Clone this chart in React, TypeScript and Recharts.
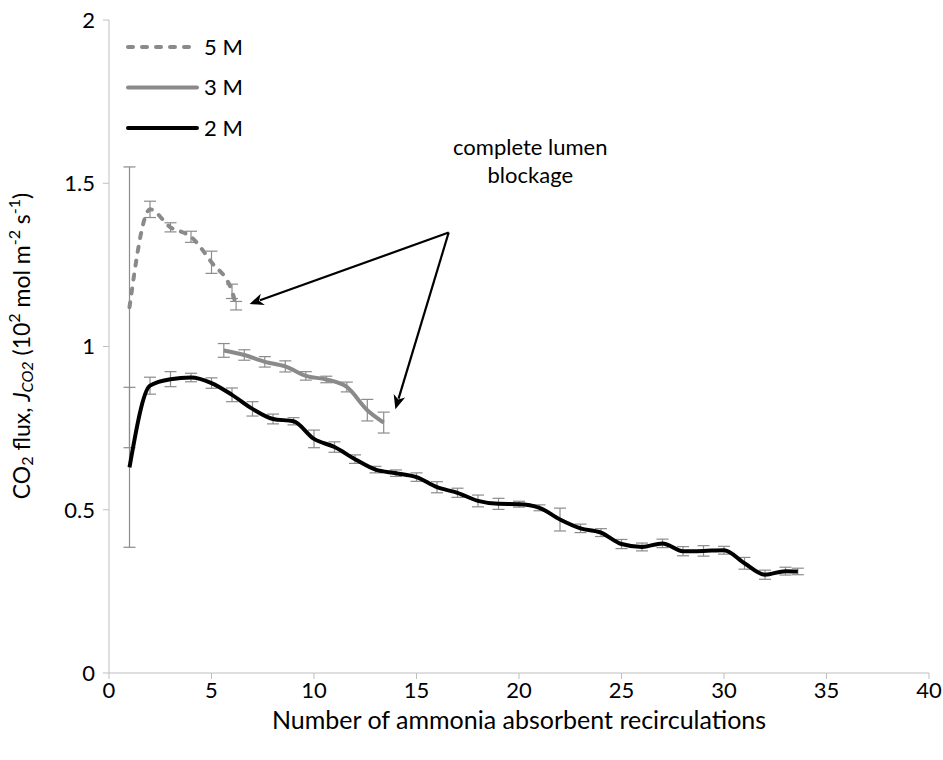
import React from 'react'
import {
  LineChart,
  Line,
  XAxis,
  YAxis,
  ErrorBar,
  Legend,
  ReferenceLine,
  ReferenceDot,
} from 'recharts'

// 2 M absorbent
const x2M = [1, 2, 3, 4, 5, 6, 7, 8, 9, 10, 11, 12, 13, 14, 15, 16, 17, 18, 19, 20, 21, 22, 23, 24, 25, 26, 27, 28, 29, 30, 31, 32, 33, 33.6]
const flux2M = [0.63, 0.88, 0.9, 0.905, 0.888, 0.852, 0.809, 0.778, 0.771, 0.717, 0.692, 0.655, 0.623, 0.612, 0.6, 0.569, 0.552, 0.527, 0.518, 0.517, 0.506, 0.47, 0.443, 0.43, 0.395, 0.386, 0.397, 0.373, 0.374, 0.376, 0.336, 0.301, 0.312, 0.311]
const err2M = [0.245, 0.026, 0.023, 0.013, 0.016, 0.021, 0.022, 0.015, 0.011, 0.027, 0.016, 0.013, 0.01, 0.01, 0.013, 0.017, 0.014, 0.018, 0.017, 0.009, 0.009, 0.035, 0.013, 0.012, 0.014, 0.012, 0.013, 0.014, 0.016, 0.012, 0.018, 0.014, 0.012, 0.01]

// 3 M absorbent
const x3M = [5.6, 6.6, 7.6, 8.6, 9.6, 10.6, 11.6, 12.6, 13.4]
const flux3M = [0.988, 0.974, 0.953, 0.939, 0.91, 0.899, 0.876, 0.805, 0.767]
const err3M = [0.021, 0.016, 0.016, 0.017, 0.013, 0.01, 0.015, 0.033, 0.032]

// 5 M absorbent
const x5M = [1, 2, 3, 4, 5, 6, 6.2]
const flux5M = [1.12, 1.42, 1.365, 1.336, 1.258, 1.169, 1.125]
const err5M = [0.43, 0.025, 0.014, 0.017, 0.034, 0.022, 0.013]

const xTicks = [0, 5, 10, 15, 20, 25, 30, 35, 40]
const yTicks = [0, 0.5, 1, 1.5, 2]

// annotation: apex of the two arrows and their tips
const arrowApex = { x: 16.57, y: 1.349 }
const arrowTips = [
  { x: 6.86, y: 1.13 },
  { x: 13.97, y: 0.808 },
]

const build = (xs: number[], ys: number[], es: number[]) =>
  xs.map((x, i) => ({ x, y: ys[i], err: es[i] }))

const data2M = build(x2M, flux2M, err2M)
const data3M = build(x3M, flux3M, err3M)
const data5M = build(x5M, flux5M, err5M)

const FONT = 'Lato, "Open Sans", sans-serif'
const AXIS = '#bfbfbf'
const ERR = '#8c8c8c'
const GREY = '#8a8a8a'

const legendItems = [
  { name: '5 M', color: GREY, dash: '5 9' },
  { name: '3 M', color: GREY, dash: undefined },
  { name: '2 M', color: '#000', dash: undefined },
]

function LegendBox() {
  return (
    <svg width={140} height={110}>
      {legendItems.map((it, i) => (
        <g key={it.name}>
          <line
            x1={4}
            x2={73}
            y1={17 + i * 40.5}
            y2={17 + i * 40.5}
            stroke={it.color}
            strokeWidth={4}
            strokeDasharray={it.dash}
            strokeLinecap="round"
          />
          <text x={80} y={17 + i * 40.5} dy="0.36em" fontSize={22} fontFamily={FONT} fill="#000">
            {it.name}
          </text>
        </g>
      ))}
    </svg>
  )
}

function Arrow(props: any) {
  const { x1, y1, x2, y2 } = props
  const a = Math.atan2(y2 - y1, x2 - x1)
  const len = 14
  const half = 6
  const bx = x2 - len * Math.cos(a)
  const by = y2 - len * Math.sin(a)
  const p1 = `${bx + half * Math.sin(a)},${by - half * Math.cos(a)}`
  const p2 = `${bx - half * Math.sin(a)},${by + half * Math.cos(a)}`
  return (
    <g>
      <line x1={x1} y1={y1} x2={bx + 3 * Math.cos(a)} y2={by + 3 * Math.sin(a)} stroke="#000" strokeWidth={2.2} />
      <polygon points={`${x2},${y2} ${p1} ${bx + 4 * Math.cos(a)},${by + 4 * Math.sin(a)} ${p2}`} fill="#000" />
    </g>
  )
}

function AnnotationText(props: any) {
  const { cx, cy } = props
  return (
    <text x={cx} y={cy} textAnchor="middle" fontSize={22} fontFamily={FONT} fill="#000">
      <tspan x={cx} dy="0">complete lumen</tspan>
      <tspan x={cx} dy="28">blockage</tspan>
    </text>
  )
}

function YTitle() {
  const cx = 24
  const cy = 346
  const small = 16
  return (
    <text
      x={cx}
      y={cy}
      textAnchor="middle"
      dominantBaseline="middle"
      transform={`rotate(-90, ${cx}, ${cy})`}
      fontSize={23}
      fontFamily={FONT}
      fill="#000"
    >
      <tspan>CO</tspan>
      <tspan fontSize={small} dy={5}>2</tspan>
      <tspan dy={-5}> flux, </tspan>
      <tspan fontStyle="italic">J</tspan>
      <tspan fontStyle="italic" fontSize={small} dy={5}>CO2</tspan>
      <tspan dy={-5}> (10</tspan>
      <tspan fontSize={small} dy={-8}>2</tspan>
      <tspan dy={8}> mol m</tspan>
      <tspan fontSize={small} dy={-8}>-2</tspan>
      <tspan dy={8}> s</tspan>
      <tspan fontSize={small} dy={-8}>-1</tspan>
      <tspan dy={8}>)</tspan>
    </text>
  )
}

export default function App() {
  const tick = { fontSize: 22, fill: '#000', fontFamily: FONT }
  return (
    <div style={{ position: 'absolute', left: 0, top: 0, width: 943, height: 760, background: '#fff' }}>
      <LineChart width={943} height={760} margin={{ top: 20, right: 14, bottom: 27, left: 0 }}>
        <XAxis
          type="number"
          dataKey="x"
          domain={[0, 40]}
          ticks={xTicks}
          height={60}
          tick={tick}
          tickSize={6}
          tickMargin={3}
          stroke={AXIS}
          allowDuplicatedCategory={false}
          label={{
            value: 'Number of ammonia absorbent recirculations',
            position: 'insideBottom',
            offset: 4,
            fontSize: 25,
            fill: '#000',
            fontFamily: FONT,
          }}
        />
        <YAxis
          type="number"
          domain={[0, 2]}
          ticks={yTicks}
          width={109}
          tick={tick}
          tickSize={6}
          tickMargin={8}
          stroke={AXIS}
          label={<YTitle />}
        />
        <Legend
          layout="vertical"
          align="center"
          verticalAlign="middle"
          wrapperStyle={{ left: 124, top: 30, width: 140, height: 110 }}
          content={() => <LegendBox />}
        />
        <Line
          data={data5M}
          dataKey="y"
          name="5 M"
          type="monotone"
          stroke={GREY}
          strokeWidth={4}
          strokeDasharray="5 9"
          strokeLinecap="round"
          dot={false}
          activeDot={false}
          isAnimationActive={false}
        >
          <ErrorBar dataKey="err" width={6} stroke={ERR} strokeWidth={1.2} />
        </Line>
        <Line
          data={data3M}
          dataKey="y"
          name="3 M"
          type="monotone"
          stroke={GREY}
          strokeWidth={4}
          dot={false}
          activeDot={false}
          isAnimationActive={false}
        >
          <ErrorBar dataKey="err" width={6} stroke={ERR} strokeWidth={1.2} />
        </Line>
        <Line
          data={data2M}
          dataKey="y"
          name="2 M"
          type="monotone"
          stroke="#000"
          strokeWidth={4}
          dot={false}
          activeDot={false}
          isAnimationActive={false}
        >
          <ErrorBar dataKey="err" width={6} stroke={ERR} strokeWidth={1.2} />
        </Line>
        {arrowTips.map((t, i) => (
          <ReferenceLine
            key={i}
            segment={[arrowApex, t]}
            shape={(p: any) => <Arrow {...p} />}
          />
        ))}
        <ReferenceDot x={20.55} y={1.585} r={0} shape={(p: any) => <AnnotationText {...p} />} />
      </LineChart>
    </div>
  )
}
